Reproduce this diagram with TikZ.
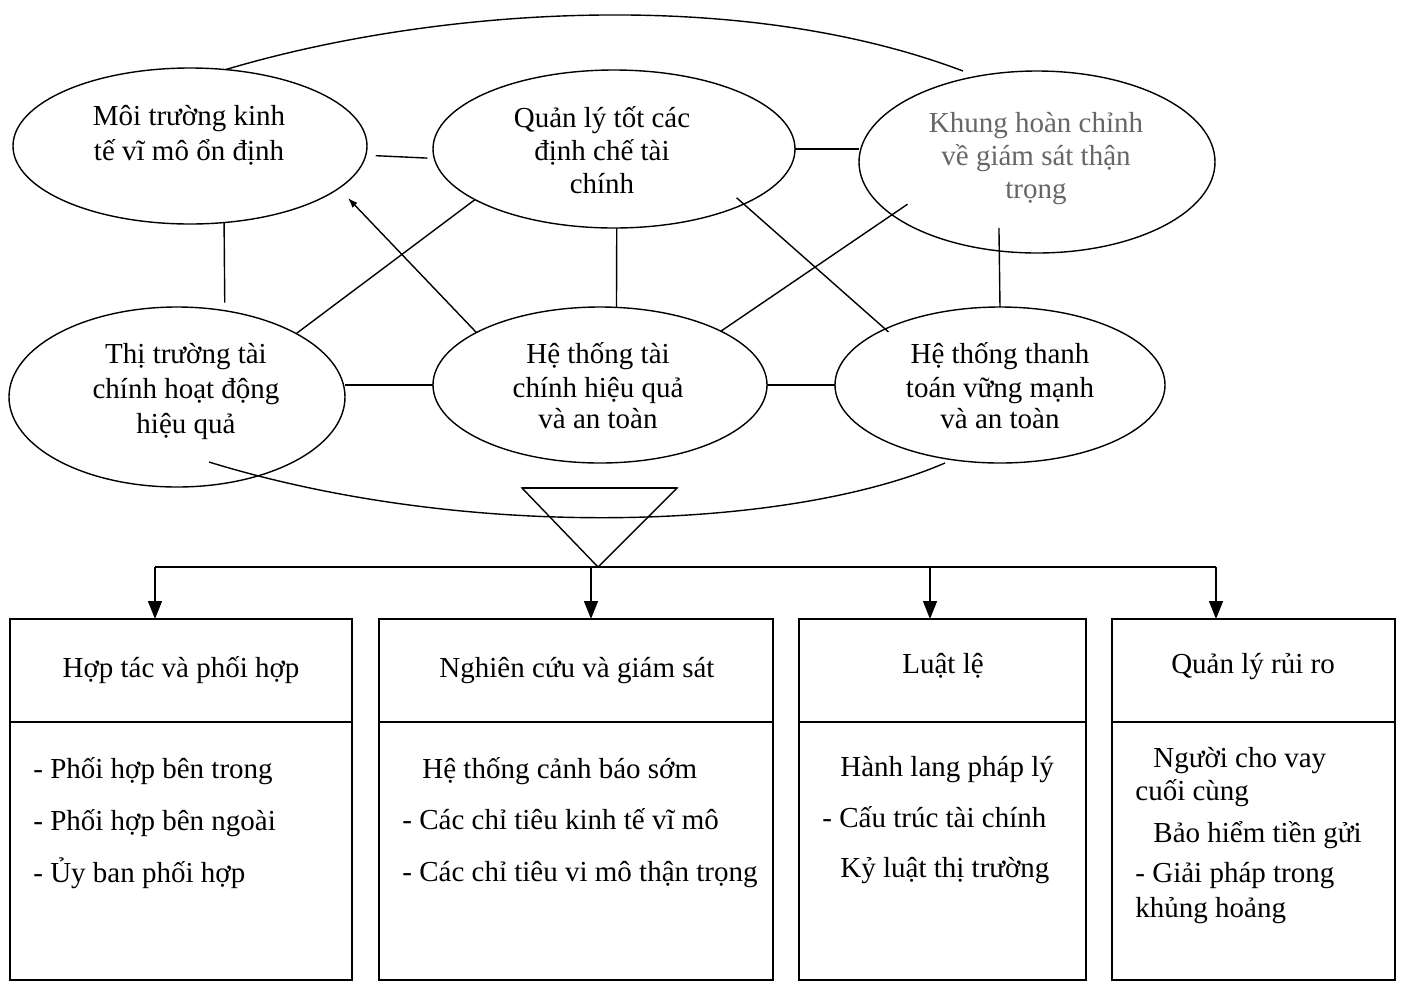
\documentclass[tikz,border=0pt]{standalone}
\usepackage{fontspec}
\setmainfont{Liberation Serif}
\usetikzlibrary{shapes.geometric,arrows.meta,calc}
\begin{document}
\begin{tikzpicture}[x=0.5pt,y=-0.5pt,
  ell/.style={draw,ellipse,inner sep=0pt,outer sep=0pt,line width=0.7pt},
  ln/.style={line width=0.7pt},
  txt/.style={font=\fontsize{14.5}{17}\selectfont,inner sep=0pt,anchor=base},
  ltxt/.style={font=\fontsize{14.5}{17}\selectfont,inner sep=0pt,anchor=base west},
  boxn/.style={draw,rectangle,inner sep=0pt,outer sep=0pt,line width=0.7pt},
  arr/.style={line width=0.7pt,-{Triangle[length=9pt,width=7pt]}},
  bus/.style={line width=1pt}]
\useasboundingbox (0,0) rectangle (1404,982);

% ellipses
\node[ell,minimum width=177pt,minimum height=78pt] (e1) at (190,146) {};
\node[ell,minimum width=181pt,minimum height=79pt] (e2) at (614,149) {};
\node[ell,minimum width=178pt,minimum height=91pt] (e3) at (1037,162) {};
\node[ell,minimum width=168pt,minimum height=90pt] (e4) at (177,397) {};
\node[ell,minimum width=167pt,minimum height=78pt] (e5) at (600,385) {};
\node[ell,minimum width=165pt,minimum height=78pt] (e6) at (1000,385) {};

% ellipse texts
\node[txt] (e1a) at (189,125) {Môi trường kinh};
\node[txt] (e1b) at (189,160) {tế vĩ mô ổn định};
\node[txt] (e2a) at (602,127) {Quản lý tốt các};
\node[txt] (e2b) at (602,160) {định chế tài};
\node[txt] (e2c) at (602,193) {chính};
\node[txt,text=black!60] (e3a) at (1036,132) {Khung hoàn chỉnh};
\node[txt,text=black!60] (e3b) at (1036,165) {về giám sát thận};
\node[txt,text=black!60] (e3c) at (1036,198) {trọng};
\node[txt] (e4a) at (186,363) {Thị trường tài};
\node[txt] (e4b) at (186,398) {chính hoạt động};
\node[txt] (e4c) at (186,433) {hiệu quả};
\node[txt] (e5a) at (598,363) {Hệ thống tài};
\node[txt] (e5b) at (598,397) {chính hiệu quả};
\node[txt] (e5c) at (598,428) {và an toàn};
\node[txt] (e6a) at (1000,363) {Hệ thống thanh};
\node[txt] (e6b) at (1000,397) {toán vững mạnh};
\node[txt] (e6c) at (1000,428) {và an toàn};

% connectors between ellipses
\draw[ln,shorten <=5pt,shorten >=3.5pt] (e1.-3.6) -- (e2.-177.5);
\draw[ln] (e2.east) -- (e2.east -| e3.west);
\draw[ln,shorten >=4pt] (e1.-66) -- (e4.61.5);
\draw[ln] (e2.-88.5) -- (e5.78.3);
\draw[ln,shorten <=-11.5pt] (e3.-113.1) -- (e6.north);
\draw[ln] (e4.east |- e5.west) -- (e5.west);
\draw[ln] (e5.east) -- (e6.west);
\coordinate (ahd) at ([shift={(158,52)}]e1.center);
\draw[ln,-{Latex[length=5pt,width=3.5pt]}] (e5.157.5) -- (ahd);
\draw[ln] (e4.28.8) -- (e2.200);
\draw[ln,shorten <=-4.75pt,shorten >=-2.2pt] (e2.-23.8) -- (e6.154.2);
\draw[ln,shorten >=-9.4pt] (e5.24.3) -- (e3.-160);

% arcs
\coordinate (tend) at ([shift={(-74,-91)}]e3.center);
\draw[ln] (e1.65.4) .. controls (425,10) and (733,-16) .. (tend);
\coordinate (bstart) at ([shift={(32,65)}]e4.center);
\coordinate (bend) at ([shift={(-55,78)}]e6.center);
\draw[ln] (bstart) .. controls (469,542) and (790,530) .. (bend);

% triangle and bus
\coordinate (apex) at (598,567);
\coordinate (tl) at (522,488);
\coordinate (tr) at (677,488);
\draw[ln,line join=miter] (tl) -- (tr) -- (apex) -- cycle;
\draw[line width=1.2pt] (tl) -- (tr);
\coordinate (d1) at (155,567);
\coordinate (d2) at (591,567);
\coordinate (d3) at (930,567);
\coordinate (d4) at (1216,567);
\draw[bus] (d1) -- (d4);

% boxes
\node[boxn,minimum width=171pt,minimum height=51.5pt] (h1) at (181,670.5) {};
\node[boxn,minimum width=171pt,minimum height=129pt,anchor=north] (b1) at (h1.south) {};
\node[boxn,minimum width=197pt,minimum height=51.5pt] (h2) at (576,670.5) {};
\node[boxn,minimum width=197pt,minimum height=129pt,anchor=north] (b2) at (h2.south) {};
\node[boxn,minimum width=143.5pt,minimum height=51.5pt] (h3) at (942.5,670.5) {};
\node[boxn,minimum width=143.5pt,minimum height=129pt,anchor=north] (b3) at (h3.south) {};
\node[boxn,minimum width=141.5pt,minimum height=51.5pt] (h4) at (1253.5,670.5) {};
\node[boxn,minimum width=141.5pt,minimum height=129pt,anchor=north] (b4) at (h4.south) {};

\draw[arr] (d1) -- (d1 |- h1.north);
\draw[arr] (d2) -- (d2 |- h2.north);
\draw[arr] (d3) -- (d3 |- h3.north);
\draw[arr] (d4) -- (d4 |- h4.north);

% headers
\node[txt] (h1t) at (181,677) {Hợp tác và phối hợp};
\node[txt] (h2t) at (577,677) {Nghiên cứu và giám sát};
\node[txt] (h3t) at (943,673) {Luật lệ};
\node[txt] (h4t) at (1253,673) {Quản lý rủi ro};

% body texts
\node[ltxt] (b1a) at (33,778) {- Phối hợp bên trong};
\node[ltxt] (b1b) at (33,830) {- Phối hợp bên ngoài};
\node[ltxt] (b1c) at (33,882) {- Ủy ban phối hợp};
\node[ltxt] (b2a) at (422,778) {Hệ thống cảnh báo sớm};
\node[ltxt] (b2b) at (402,829) {- Các chỉ tiêu kinh tế vĩ mô};
\node[ltxt] (b2c) at (402,881) {- Các chỉ tiêu vi mô thận trọng};
\node[ltxt] (b3a) at (840,776) {Hành lang pháp lý};
\node[ltxt] (b3b) at (822,827) {- Cấu trúc tài chính};
\node[ltxt] (b3c) at (840,877) {Kỷ luật thị trường};
\node[ltxt] (b4a) at (1153,767) {Người cho vay};
\node[ltxt] (b4b) at (1135,800) {cuối cùng};
\node[ltxt] (b4c) at (1153,842) {Bảo hiểm tiền gửi};
\node[ltxt] (b4d) at (1135,882) {- Giải pháp trong};
\node[ltxt] (b4e) at (1135,917) {khủng hoảng};
\end{tikzpicture}
\end{document}
